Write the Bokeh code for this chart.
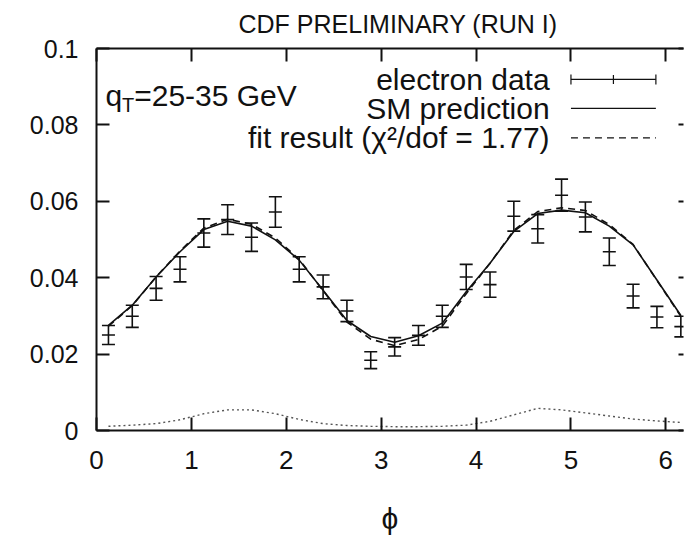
from bokeh.plotting import figure
from bokeh.models import (Range1d, LinearAxis, FixedTicker, Whisker, TeeHead,
                          ColumnDataSource, Label, CustomLabelingPolicy)
from bokeh.embed import file_html
from bokeh.resources import INLINE

# ---- data -------------------------------------------------------------
phi = [0.126, 0.377, 0.628, 0.880, 1.131, 1.382, 1.634, 1.885, 2.136, 2.388,
       2.639, 2.890, 3.142, 3.393, 3.644, 3.896, 4.147, 4.398, 4.650, 4.901,
       5.152, 5.404, 5.655, 5.906, 6.158]

electron = [0.0250, 0.0299, 0.0372, 0.0422, 0.0517, 0.0552, 0.0506, 0.0572,
            0.0422, 0.0376, 0.0313, 0.0184, 0.0219, 0.0249, 0.0299, 0.0402,
            0.0382, 0.0561, 0.0528, 0.0616, 0.0559, 0.0468, 0.0352, 0.0297,
            0.0272]
electron_err = [0.0025, 0.0029, 0.0031, 0.0033, 0.0037, 0.0039, 0.0037, 0.0040,
                0.0033, 0.0031, 0.0028, 0.0022, 0.0024, 0.0026, 0.0029, 0.0033,
                0.0033, 0.0039, 0.0037, 0.0042, 0.0039, 0.0036, 0.0031, 0.0028,
                0.0027]

sm_prediction = [0.0275, 0.0328, 0.0402, 0.0468, 0.0526, 0.0548, 0.0535, 0.0499,
                 0.0446, 0.0367, 0.0288, 0.0246, 0.0231, 0.0248, 0.0281, 0.0363,
                 0.0438, 0.0521, 0.0568, 0.0577, 0.0570, 0.0535, 0.0486, 0.0394,
                 0.0301]

fit_result = [0.0273, 0.0327, 0.0402, 0.0470, 0.0530, 0.0553, 0.0540, 0.0504,
              0.0448, 0.0366, 0.0284, 0.0239, 0.0222, 0.0238, 0.0273, 0.0358,
              0.0438, 0.0524, 0.0573, 0.0583, 0.0576, 0.0539, 0.0487, 0.0393,
              0.0299]

background = [0.0011, 0.0014, 0.0018, 0.0028, 0.0044, 0.0054, 0.0054, 0.0044,
              0.0029, 0.0018, 0.0013, 0.0011, 0.0010, 0.0010, 0.0011, 0.0014,
              0.0024, 0.0041, 0.0058, 0.0054, 0.0046, 0.0038, 0.0030, 0.0025,
              0.0021]

x_ticks = [0, 1, 2, 3, 4, 5, 6]
y_ticks = [0, 0.02, 0.04, 0.06, 0.08, 0.1]
y_tick_labels = ["0", "0.02", "0.04", "0.06", "0.08", "0.1"]

# ---- styling ----------------------------------------------------------
FONT = "Liberation Sans"
FS = "30px"
TICK_FS = "26px"
INK = "#111111"
LW = 1.6

p = figure(width=688, height=538, output_backend="svg", toolbar_location=None,
           x_range=Range1d(0, 6.186), y_range=Range1d(0, 0.1),
           x_axis_location=None, y_axis_location=None,
           min_border_left=96, min_border_right=0,
           min_border_top=48, min_border_bottom=108)
p.outline_line_color = None
p.xgrid.visible = False
p.ygrid.visible = False
p.background_fill_color = "white"
p.border_fill_color = "white"

p.title.text = "CDF PRELIMINARY (RUN I)"
p.title.text_font = FONT
p.title.text_font_size = "25px"
p.title.text_font_style = "normal"
p.title.text_color = INK
p.title.align = "left"
p.title.offset = 142
p.title.standoff = 14

# labelling policy that keeps no labels: used by the frame-only axes
no_labels = CustomLabelingPolicy(code="return new Set()")


def style_axis(ax, show_labels=True, tick_in=13):
    ax.major_tick_in = tick_in
    ax.major_tick_out = 0
    ax.minor_tick_in = 0
    ax.minor_tick_out = 0
    ax.major_tick_line_width = 2
    ax.major_tick_line_color = INK
    ax.axis_line_width = 2
    ax.axis_line_color = INK
    if show_labels:
        ax.major_label_text_font = FONT
        ax.major_label_text_font_size = TICK_FS
        ax.major_label_text_color = INK
    else:
        ax.major_label_policy = no_labels
        ax.major_label_text_font_size = "1px"
        ax.major_label_standoff = 0


xb = LinearAxis(ticker=FixedTicker(ticks=x_ticks))
style_axis(xb)
xb.major_label_standoff = 20
xb.axis_label = "ϕ"
xb.axis_label_text_font = FONT
xb.axis_label_text_font_size = FS
xb.axis_label_text_font_style = "normal"
xb.axis_label_text_color = INK
xb.axis_label_standoff = 30
p.add_layout(xb, "below")

yl = LinearAxis(ticker=FixedTicker(ticks=y_ticks))
style_axis(yl)
yl.major_label_text_font_size = "25px"
yl.major_label_standoff = 18
yl.major_label_overrides = dict(zip(y_ticks, y_tick_labels))
p.add_layout(yl, "left")

xt = LinearAxis(ticker=FixedTicker(ticks=x_ticks))
style_axis(xt, show_labels=False)
p.add_layout(xt, "above")

yr = LinearAxis(ticker=FixedTicker(ticks=y_ticks))
style_axis(yr, show_labels=False, tick_in=5)
yr.axis_line_color = None
p.add_layout(yr, "right")

# ---- curves -----------------------------------------------------------
p.line(phi, background, line_color="#555555", line_width=1.4, line_dash="2 3")
p.line(phi, sm_prediction, line_color=INK, line_width=LW)
p.line(phi, fit_result, line_color=INK, line_width=LW, line_dash="7 5")

# ---- electron data with error bars ------------------------------------
src = ColumnDataSource(dict(
    x=phi, y=electron,
    lower=[v - e for v, e in zip(electron, electron_err)],
    upper=[v + e for v, e in zip(electron, electron_err)],
))
p.add_layout(Whisker(source=src, base="x", lower="lower", upper="upper",
                     dimension="height", line_color=INK, line_width=LW,
                     upper_head=TeeHead(size=13, line_color=INK, line_width=LW),
                     lower_head=TeeHead(size=13, line_color=INK, line_width=LW)))
p.scatter("x", "y", source=src, marker="dash", size=13,
          line_color=INK, line_width=LW)

# ---- key (labels on the left, samples on the right) -------------------
key_text_x = 4.775
key_x0, key_x1 = 5.0, 5.895
key_rows = [0.0919, 0.0843, 0.0766]

key_src = ColumnDataSource(dict(y=[key_rows[0]], lo=[key_x0], hi=[key_x1]))
p.add_layout(Whisker(source=key_src, base="y", lower="lo", upper="hi",
                     dimension="width", line_color=INK, line_width=1.2,
                     upper_head=TeeHead(size=10, line_color=INK, line_width=1.2),
                     lower_head=TeeHead(size=10, line_color=INK, line_width=1.2)))
p.scatter([(key_x0 + key_x1) / 2], [key_rows[0]], marker="dash", angle=1.5708,
          size=9, line_color=INK, line_width=1.2)
p.line([key_x0, key_x1], [key_rows[1]] * 2, line_color=INK, line_width=1.2)
p.line([key_x0, key_x1], [key_rows[2]] * 2, line_color=INK, line_width=1.2,
       line_dash="7 5")

for row, txt in zip(key_rows, ["electron data", "SM prediction",
                               "fit result (χ²/dof = 1.77)"]):
    p.add_layout(Label(x=key_text_x, y=row, text=txt, text_align="right",
                       text_baseline="middle", text_font=FONT,
                       text_font_size=FS, text_color=INK))

# ---- kinematic range label: q_T = 25-35 GeV ---------------------------
p.add_layout(Label(x=0.094, y=0.0877, text="q", text_font=FONT,
                   text_font_size=FS, text_color=INK,
                   text_baseline="alphabetic"))
p.add_layout(Label(x=0.269, y=0.0853, text="T", text_font=FONT,
                   text_font_size="20px", text_color=INK,
                   text_baseline="alphabetic"))
p.add_layout(Label(x=0.397, y=0.0877, text="=25-35 GeV", text_font=FONT,
                   text_font_size=FS, text_color=INK,
                   text_baseline="alphabetic"))

open("out.html", "w").write(file_html(p, INLINE))
